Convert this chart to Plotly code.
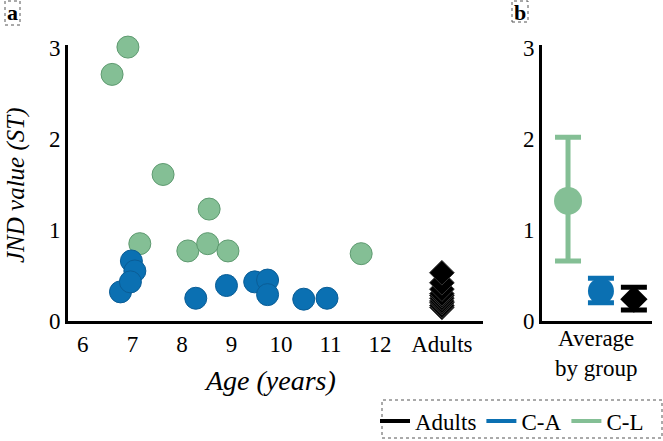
import plotly.graph_objects as go

W, H = 663, 441

# ---- data ----
cl_age = [6.59, 6.91, 7.15, 7.62, 8.12, 8.52, 8.55, 8.93, 11.62]
cl_jnd = [2.71, 3.01, 0.85, 1.61, 0.77, 0.85, 1.23, 0.77, 0.74]

ca_age = [6.76, 6.98, 7.05, 6.96, 8.28, 8.90, 9.47, 9.73, 9.73, 10.46, 10.93]
ca_jnd = [0.32, 0.66, 0.55, 0.43, 0.25, 0.39, 0.43, 0.45, 0.29, 0.24, 0.25]

adult_jnd = [0.15, 0.17, 0.20, 0.22, 0.25, 0.28, 0.30, 0.35, 0.42, 0.53]
ADULT_X = 13.25

x_tickvals = [6, 7, 8, 9, 10, 11, 12, ADULT_X]
x_ticktext = ["6", "7", "8", "9", "10", "11", "12", "Adults"]
y_tickvals = [0, 1, 2, 3]

groups = ["C-L", "C-A", "Adults"]
group_mean = [1.32, 0.33, 0.24]
group_err_plus = [0.70, 0.14, 0.13]
group_err_minus = [0.66, 0.13, 0.12]

GREEN = "#84BF95"
BLUE = "#0B70B2"
BLACK = "#000000"
group_color = [GREEN, BLUE, BLACK]
group_symbol = ["circle", "circle", "diamond"]
group_size = [28, 26, 21]

FONT = "Liberation Serif"
Y_TOP = 3.03
PX_PER_UNIT = 91.0
Y0_PX = 321


def px_x(p):
    return p / W


def px_y(p):
    return (H - p) / H


fig = go.Figure()

# panel a
fig.add_trace(go.Scatter(
    x=cl_age, y=cl_jnd, mode="markers", xaxis="x", yaxis="y", showlegend=False,
    marker=dict(size=22, color=GREEN, line=dict(color="#5E9A70", width=1)),
    cliponaxis=False))
fig.add_trace(go.Scatter(
    x=ca_age, y=ca_jnd, mode="markers", xaxis="x", yaxis="y", showlegend=False,
    marker=dict(size=22, color=BLUE, line=dict(color="#0A5D96", width=1)),
    cliponaxis=False))
fig.add_trace(go.Scatter(
    x=[ADULT_X] * len(adult_jnd), y=adult_jnd, mode="markers", xaxis="x", yaxis="y",
    showlegend=False,
    marker=dict(size=19, symbol="diamond", color=BLACK, line=dict(color="#333333", width=1)),
    cliponaxis=False))

# panel b
for i, g in enumerate(groups):
    fig.add_trace(go.Scatter(
        x=[g], y=[group_mean[i]], mode="markers", xaxis="x2", yaxis="y2", showlegend=False,
        marker=dict(size=group_size[i], symbol=group_symbol[i], color=group_color[i]),
        error_y=dict(type="data", symmetric=False, array=[group_err_plus[i]],
                     arrayminus=[group_err_minus[i]], color=group_color[i],
                     thickness=5, width=13),
        cliponaxis=False))

# legend entries
for name, col in [("Adults", BLACK), ("C-A", BLUE), ("C-L", GREEN)]:
    fig.add_trace(go.Scatter(x=[None], y=[None], mode="lines", name=name,
                             line=dict(color=col, width=4), xaxis="x", yaxis="y"))

axis_common = dict(showgrid=False, zeroline=False, showline=True, linecolor="black",
                   linewidth=3, ticks="", automargin=False,
                   tickfont=dict(family=FONT, size=23, color="black"))

y_top_px = Y0_PX - Y_TOP * PX_PER_UNIT


def label(text, x, y, size=23, angle=0):
    return dict(text=text, x=px_x(x), y=px_y(y), xref="paper", yref="paper",
                xanchor="center", yanchor="middle", showarrow=False, textangle=angle,
                font=dict(family=FONT, size=size, color="black"))


fig.update_layout(
    template="none",
    width=W, height=H, autosize=False,
    margin=dict(l=0, r=0, t=0, b=0, pad=0, autoexpand=False),
    plot_bgcolor="white", paper_bgcolor="white",
    font=dict(family=FONT, size=23, color="black"),
    xaxis=dict(domain=[px_x(68), px_x(483)], range=[5.7, 14.08], anchor="y",
               tickvals=x_tickvals, ticktext=x_ticktext, **axis_common),
    yaxis=dict(domain=[px_y(Y0_PX), px_y(y_top_px)], range=[0, Y_TOP], anchor="x",
               tickvals=y_tickvals, **axis_common),
    xaxis2=dict(domain=[px_x(542), px_x(652)], range=[-0.79, 2.55], anchor="y2",
                type="category", categoryorder="array", categoryarray=groups,
                showticklabels=False, **axis_common),
    yaxis2=dict(domain=[px_y(Y0_PX), px_y(y_top_px)], range=[0, Y_TOP], anchor="x2",
                tickvals=y_tickvals, **axis_common),
    legend=dict(orientation="h", x=px_x(649), xanchor="right", y=px_y(421), yanchor="middle",
                font=dict(family=FONT, size=23), bgcolor="rgba(0,0,0,0)",
                borderwidth=0, itemwidth=30, tracegroupgap=0),
    annotations=[
        label("<i>JND value (ST)</i>", 16, 185, size=25, angle=-90),
        label("<i>Age (years)</i>", 270, 380, size=28),
        label("Average<br>by group", 596, 353),
        label("<b>a</b>", 12.5, 13, size=22),
        label("<b>b</b>", 520, 12, size=22),
    ],
    shapes=[
        dict(type="rect", xref="paper", yref="paper", x0=px_x(5), x1=px_x(20),
             y0=px_y(25), y1=px_y(1), line=dict(color="#555555", width=1, dash="dot")),
        dict(type="rect", xref="paper", yref="paper", x0=px_x(512), x1=px_x(528),
             y0=px_y(22), y1=px_y(1), line=dict(color="#555555", width=1, dash="dot")),
        dict(type="rect", xref="paper", yref="paper", x0=px_x(382), x1=px_x(662),
             y0=px_y(438), y1=px_y(400), line=dict(color="#555555", width=1, dash="dot")),
    ],
)

fig.write_html("out.html", config={"displayModeBar": False},
               post_script="document.body.style.margin='0';")
